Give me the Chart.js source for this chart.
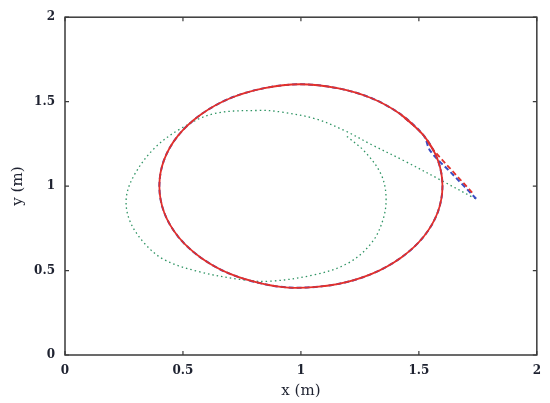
<!DOCTYPE html>
<html>
<head>
<meta charset="utf-8">
<script src="https://cdn.jsdelivr.net/npm/chart.js@4.4.1/dist/chart.umd.min.js"></script>
<style>
  body { margin: 0; background: #fff; }
  #wrap { width: 550px; height: 403px; }
</style>
</head>
<body>
<div id="wrap"><canvas id="chart"></canvas></div>
<script>
// trajectories (x, y in metres)
var redX = [1.726, 1.640, 1.556, 1.520, 1.424, 1.300, 1.155, 0.995, 0.845, 0.700, 0.576, 0.480, 0.420, 0.400, 0.420, 0.480, 0.576, 0.700, 0.845, 0.975, 1.155, 1.300, 1.424, 1.520, 1.580, 1.600, 1.580, 1.520, 1.424];
var redY = [0.962, 1.093, 1.224, 1.300, 1.424, 1.520, 1.580, 1.603, 1.580, 1.520, 1.424, 1.300, 1.155, 1.000, 0.845, 0.700, 0.576, 0.480, 0.420, 0.398, 0.420, 0.480, 0.576, 0.700, 0.845, 1.000, 1.155, 1.300, 1.424];

var blueX = [1.743, 1.646, 1.549, 1.520, 1.424, 1.300, 1.155, 0.995, 0.845, 0.700, 0.576, 0.480, 0.420, 0.400, 0.420, 0.480, 0.576, 0.700, 0.845, 0.975, 1.155, 1.300, 1.424, 1.520, 1.580, 1.600, 1.580, 1.520, 1.424];
var blueY = [0.925, 1.066, 1.207, 1.300, 1.424, 1.520, 1.580, 1.603, 1.580, 1.520, 1.424, 1.300, 1.155, 1.000, 0.845, 0.700, 0.576, 0.480, 0.420, 0.398, 0.420, 0.480, 0.576, 0.700, 0.845, 1.000, 1.155, 1.300, 1.424];

var greenX = [1.740, 1.600, 1.440, 1.300, 1.186, 1.060, 0.919, 0.828, 0.632, 0.491, 0.379, 0.295, 0.260, 0.274, 0.337, 0.421, 0.561, 0.744, 0.870, 1.060, 1.200, 1.298, 1.347, 1.361, 1.340, 1.270, 1.190];
var greenY = [0.925, 1.030, 1.148, 1.245, 1.328, 1.399, 1.438, 1.448, 1.429, 1.341, 1.224, 1.069, 0.933, 0.797, 0.661, 0.564, 0.496, 0.447, 0.437, 0.476, 0.544, 0.661, 0.797, 0.933, 1.069, 1.205, 1.300];

var xTicks = [0, 0.5, 1, 1.5, 2];
var yTicks = [0, 0.5, 1, 1.5, 2];

function pts(xs, ys) {
    return xs.map(function (x, i) { return {x: x, y: ys[i]}; });
}

var serif = "'DejaVu Serif', 'Liberation Serif', serif";
var axisColor = '#3a3a3a';
var textColor = '#1e2230';

// box around the plot with short inward ticks on all four sides
var frame = {
    id: 'frame',
    afterDraw: function (chart) {
        var c = chart.ctx, a = chart.chartArea;
        var sx = chart.scales.x, sy = chart.scales.y;
        c.save();
        c.strokeStyle = axisColor;
        c.lineWidth = 1.5;
        c.strokeRect(a.left, a.top, a.right - a.left, a.bottom - a.top);
        c.lineWidth = 1.2;
        c.beginPath();
        xTicks.forEach(function (v) {
            var px = sx.getPixelForValue(v);
            c.moveTo(px, a.bottom); c.lineTo(px, a.bottom - 4);
            c.moveTo(px, a.top); c.lineTo(px, a.top + 4);
        });
        yTicks.forEach(function (v) {
            var py = sy.getPixelForValue(v);
            c.moveTo(a.left, py); c.lineTo(a.left + 4, py);
            c.moveTo(a.right, py); c.lineTo(a.right - 4, py);
        });
        c.stroke();
        c.restore();
    }
};

var ctx = document.getElementById('chart').getContext('2d');
var myChart = new Chart(ctx, {
    type: 'scatter',
    data: {
        datasets: [{
            label: 'red',
            data: pts(redX, redY),
            showLine: true,
            borderColor: '#e3302b',
            borderWidth: 1.8,
            tension: 0.33,
            pointRadius: 0,
            segment: {
                borderDash: function (s) { return s.p0DataIndex < 2 ? [5, 3] : undefined; }
            }
        }, {
            label: 'blue',
            data: pts(blueX, blueY),
            showLine: true,
            borderColor: '#3a4cc4',
            borderWidth: 2,
            borderDash: [5, 3],
            tension: 0.33,
            pointRadius: 0
        }, {
            label: 'green',
            data: pts(greenX, greenY),
            showLine: true,
            borderColor: '#2f9464',
            borderWidth: 1.3,
            borderDash: [1.5, 3],
            tension: 0.35,
            pointRadius: 0
        }]
    },
    options: {
        responsive: true,
        maintainAspectRatio: false,
        animation: false,
        layout: { padding: { top: 12, right: 10, left: 0, bottom: 0 } },
        plugins: { legend: { display: false }, tooltip: { enabled: false } },
        scales: {
            x: {
                type: 'linear',
                min: 0, max: 2,
                afterBuildTicks: function (s) { s.ticks = xTicks.map(function (v) { return {value: v}; }); },
                afterFit: function (s) { s.height = 48; },
                grid: { display: false, drawTicks: false },
                border: { display: false },
                ticks: { padding: 9, color: textColor, font: { family: serif, size: 12, weight: 'bold' },
                         callback: function (v) { return String(v); } },
                title: { display: true, text: 'x (m)', color: textColor, padding: { top: 0, bottom: 3 }, font: { family: serif, size: 15 } }
            },
            y: {
                type: 'linear',
                min: 0, max: 2,
                afterBuildTicks: function (s) { s.ticks = yTicks.map(function (v) { return {value: v}; }); },
                afterFit: function (s) { s.width = 65; },
                grid: { display: false, drawTicks: false },
                border: { display: false },
                ticks: { padding: 10, color: textColor, font: { family: serif, size: 12, weight: 'bold' },
                         callback: function (v) { return String(v); } },
                title: { display: true, text: 'y (m)', color: textColor, padding: { top: 9, bottom: 0 }, font: { family: serif, size: 15 } }
            }
        }
    },
    plugins: [frame]
});
</script>
</body>
</html>
